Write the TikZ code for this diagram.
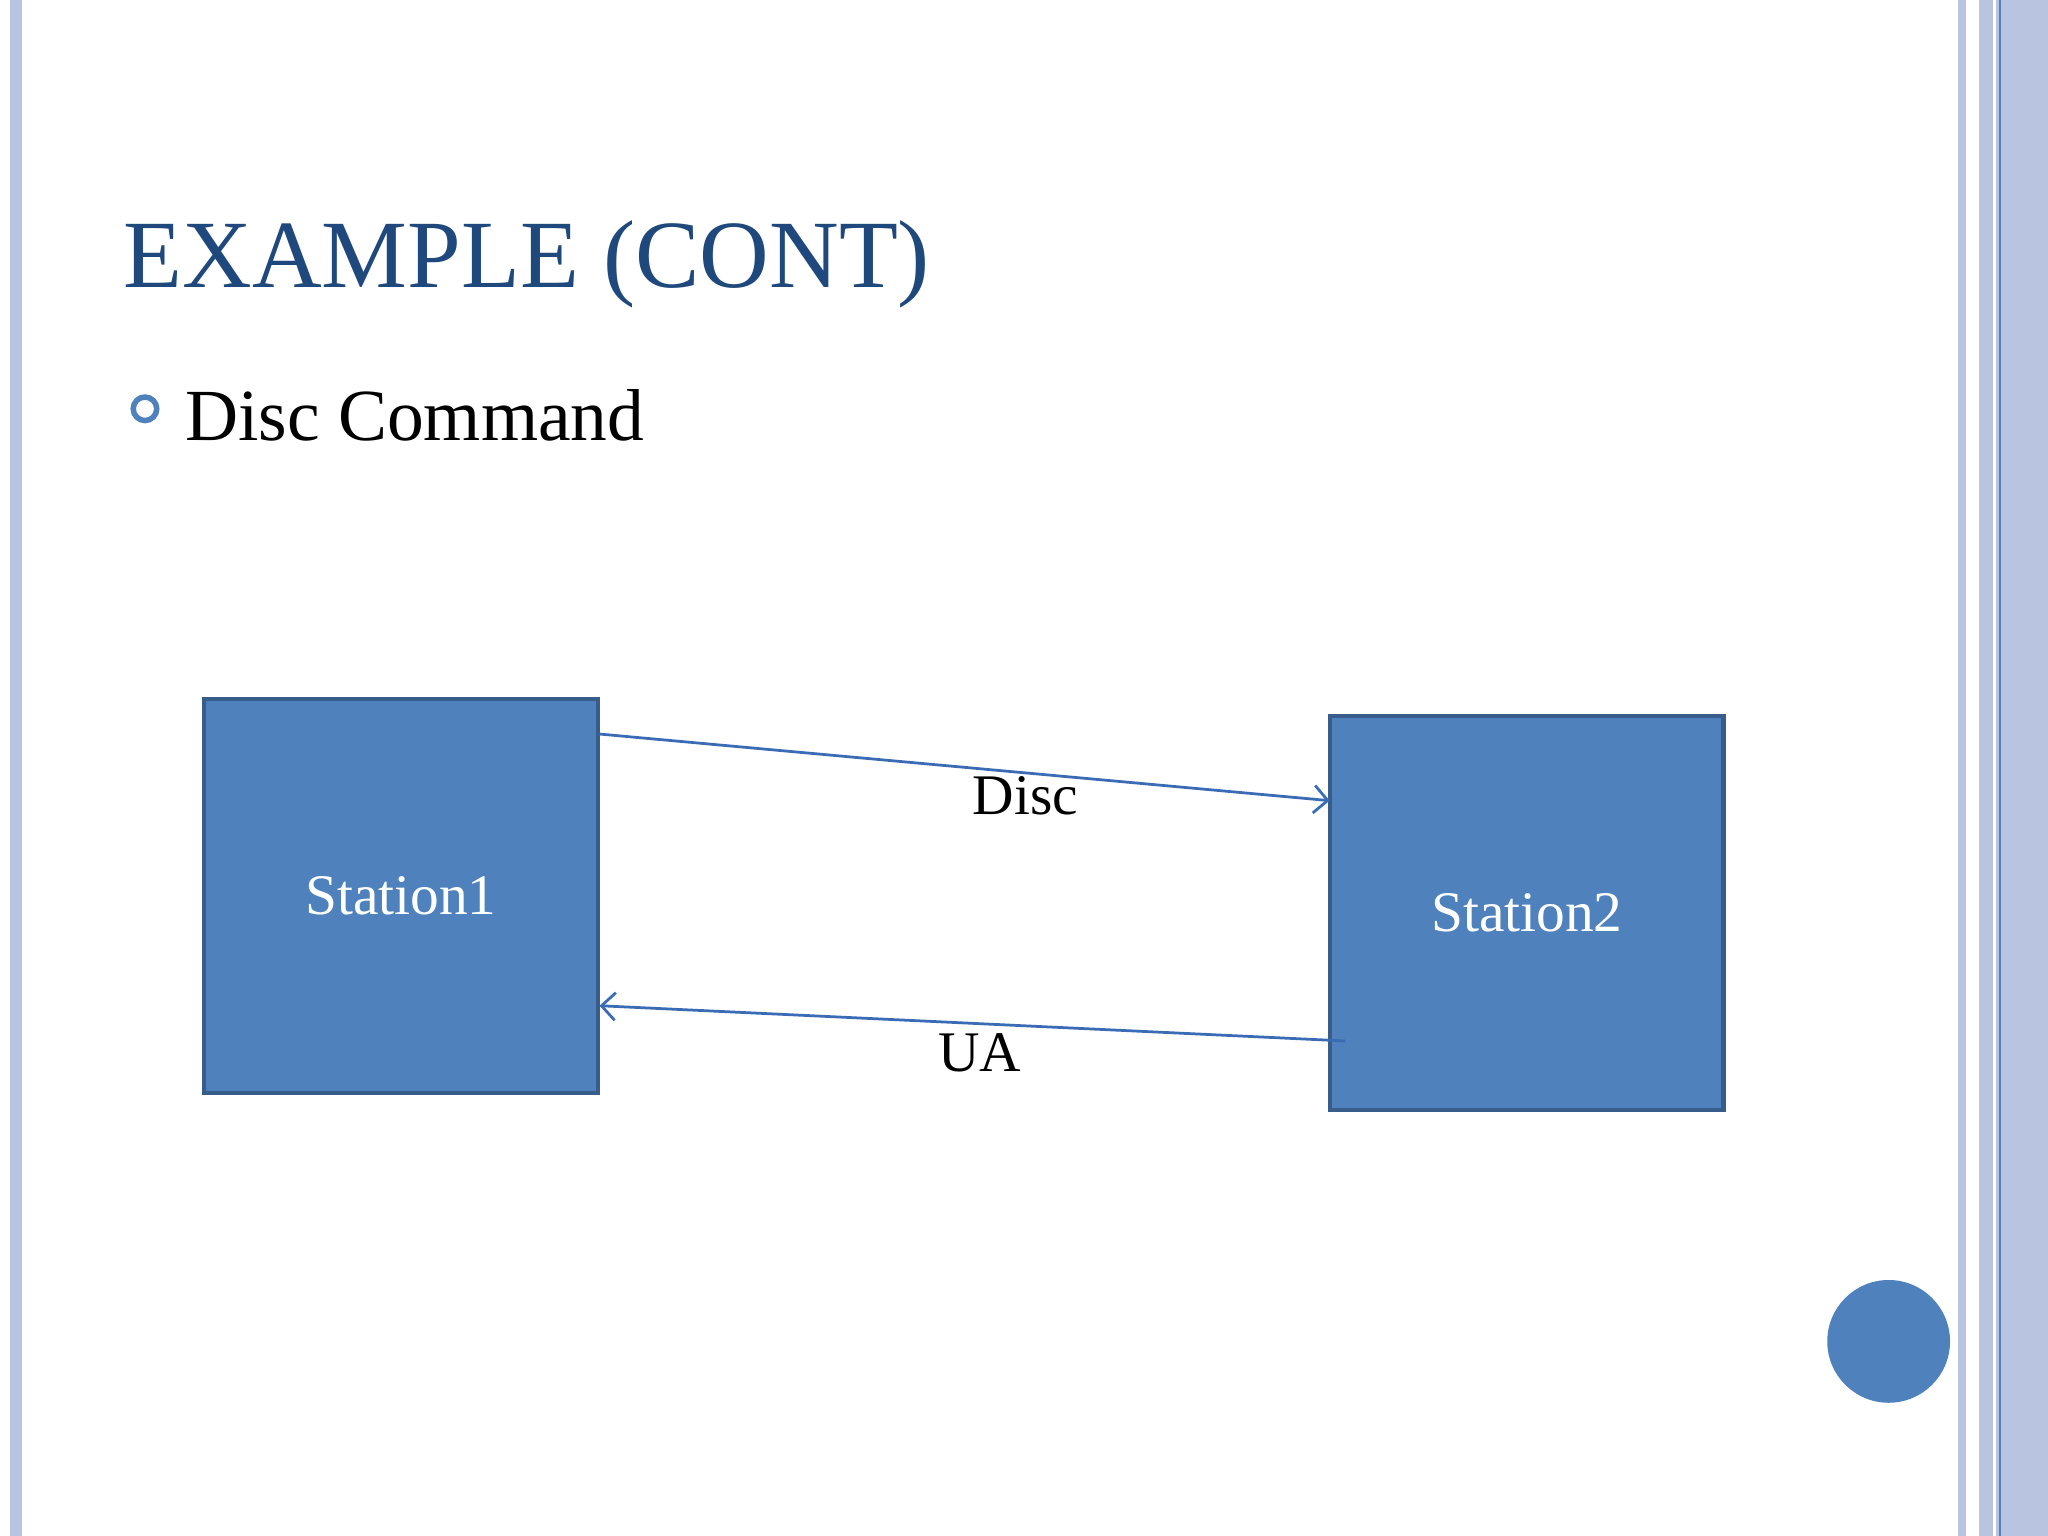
\documentclass[tikz,border=0pt]{standalone}
\usepackage{fontspec}
\setmainfont{Liberation Serif}
\usetikzlibrary{arrows.meta}
\begin{document}
\begin{tikzpicture}[x=0.01cm,y=-0.01cm,
  box/.style={draw=boxb,line width=0.9pt,fill=boxc,minimum width=3.01cm,minimum height=3.01cm,inner sep=0,text=white,font=\fontsize{12.5}{14}\selectfont},
  arr/.style={draw=linec,line width=0.6pt,-{Straight Barb[length=3pt,width=6pt]}},
  lab/.style={font=\fontsize{12.5}{14}\selectfont}]
\definecolor{boxc}{HTML}{4F81BD}
\definecolor{boxb}{HTML}{385D8A}
\definecolor{linec}{HTML}{3A6CB5}
\definecolor{strip}{HTML}{B8C4E0}
\definecolor{titlec}{HTML}{1F497D}
\fill[white] (0,0) rectangle (1568,1176);
\useasboundingbox (0,0) rectangle (1568,1176);
\fill[strip] (8,0) rectangle (17,1176);
\fill[strip] (1499,0) rectangle (1505,1176);
\fill[strip] (1515,0) rectangle (1568,1176);
\draw[white,line width=0.6pt] (1527,0) -- (1527,1176);
\draw[boxc,line width=0.4pt] (1531,0) -- (1531,1176);
\node[anchor=west,text=titlec,font=\fontsize{21}{24}\selectfont,inner sep=0] (title) at (94,202) {EXAMPLE (CONT)};
\node[draw=boxc,line width=1.2pt,circle,minimum size=0.18cm,inner sep=0] (bul) at (111,313) {};
\node[anchor=west,font=\fontsize{16}{19}\selectfont,inner sep=0] (item) at (141,318) {Disc Command};
\node[box] (s1) at (307,686) {Station1};
\node[box] (s2) at (1169,699) {Station2};
\coordinate (a1) at (459,562);
\coordinate (a2) at (1018,613);
\coordinate (b1) at (1030,797);
\coordinate (b2) at (459,770);
\draw[arr] (a1) -- (a2);
\draw[arr] (b1) -- (b2);
\node[lab] (disc) at (785,609) {Disc};
\node[lab] (ua) at (750,806) {UA};
\fill[boxc] (1446,1027) circle (47) node (dot) {};
\end{tikzpicture}
\end{document}
